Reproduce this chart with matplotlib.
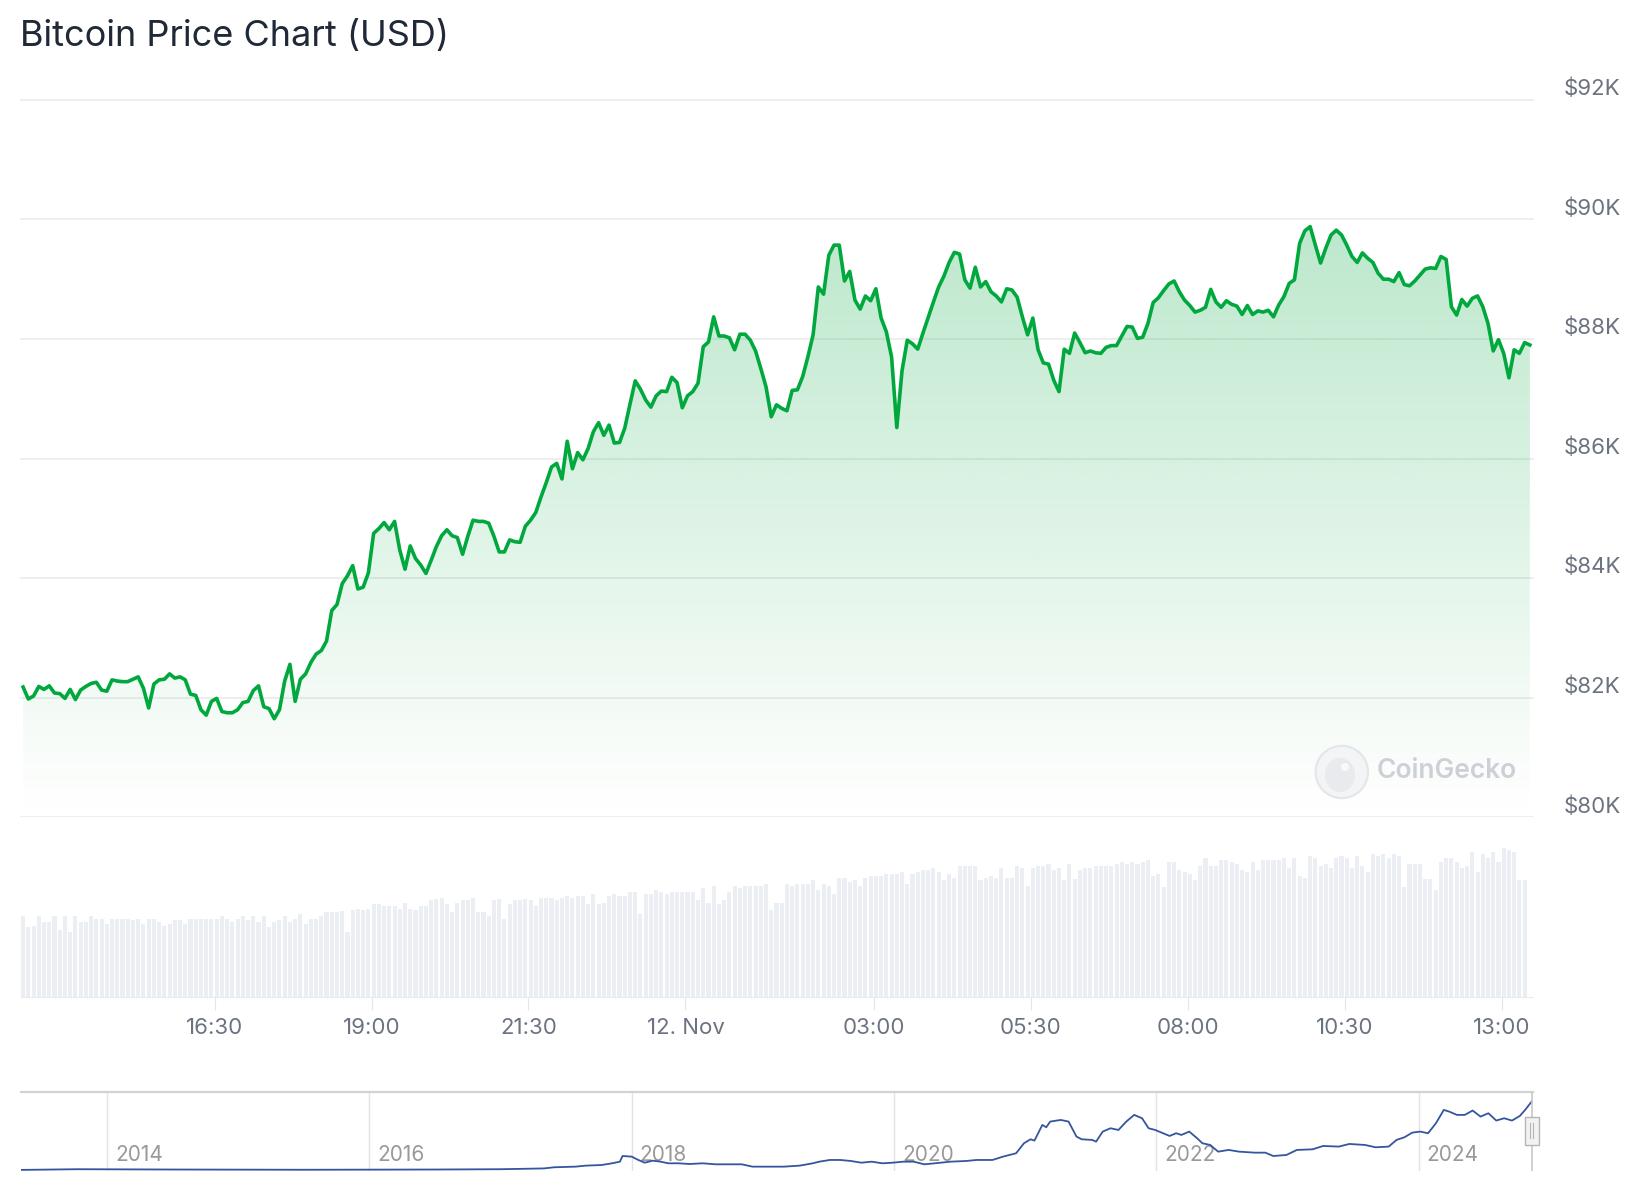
import numpy as np
import pandas as pd
import matplotlib
matplotlib.use("Agg")
import matplotlib.pyplot as plt
import matplotlib.dates as mdates
import matplotlib.colors as mcolors
from matplotlib.patches import Circle, Ellipse, Rectangle
from matplotlib.transforms import ScaledTranslation, blended_transform_factory

plt.rcParams["font.family"] = ["Inter", "DejaVu Sans"]

# 24h of 5-minute samples, price in thousands of USD
start_time = "2024-11-11 13:27"
price_k = [
    82.18, 81.98, 82.03, 82.19, 82.14, 82.20, 82.08, 82.07, 81.99, 82.14,
    81.97, 82.13, 82.19, 82.24, 82.26, 82.13, 82.11, 82.30, 82.28, 82.27,
    82.27, 82.31, 82.35, 82.16, 81.83, 82.23, 82.30, 82.31, 82.40, 82.33,
    82.35, 82.30, 82.06, 82.04, 81.80, 81.71, 81.94, 81.99, 81.77, 81.75,
    81.75, 81.80, 81.92, 81.94, 82.12, 82.20, 81.85, 81.82, 81.65, 81.80,
    82.28, 82.56, 81.94, 82.31, 82.40, 82.59, 82.73, 82.79, 82.95, 83.46,
    83.56, 83.91,
    84.04, 84.21, 83.82, 83.85, 84.09, 84.75, 84.83, 84.93, 84.81, 84.95,
    84.47, 84.15, 84.54, 84.33, 84.22, 84.08, 84.30, 84.53, 84.71, 84.81,
    84.71, 84.68, 84.40, 84.70, 84.97, 84.95, 84.95, 84.92, 84.70, 84.44,
    84.44, 84.64, 84.61, 84.60, 84.87, 84.97, 85.10, 85.36, 85.60, 85.86,
    85.92, 85.66, 86.29, 85.83, 86.10, 85.98, 86.17, 86.45, 86.60, 86.39,
    86.56, 86.26, 86.27, 86.51, 86.91, 87.30, 87.16, 86.98, 86.86, 87.05,
    87.13, 87.12, 87.36, 87.27, 86.85, 87.05, 87.12, 87.26, 87.87, 87.95,
    88.37, 88.05, 88.05, 88.02, 87.82, 88.08, 88.08, 87.98, 87.80, 87.51,
    87.20, 86.70, 86.90, 86.84, 86.80, 87.14, 87.15, 87.37, 87.70, 88.07,
    88.87, 88.75, 89.40, 89.57, 89.57, 88.97, 89.13, 88.65, 88.50, 88.72,
    88.64, 88.84, 88.35, 88.12, 87.70, 86.52, 87.47, 87.98, 87.92, 87.83,
    88.10, 88.36, 88.62, 88.87, 89.05, 89.28, 89.45, 89.42, 88.99, 88.85,
    89.20, 88.87, 88.96, 88.79, 88.72, 88.62, 88.84, 88.82, 88.70, 88.37,
    88.07, 88.35, 87.82, 87.60, 87.58, 87.31, 87.12, 87.83, 87.76, 88.10,
    87.94, 87.77, 87.80, 87.77, 87.76, 87.86, 87.89, 87.89, 88.05, 88.21,
    88.20, 88.01, 88.03, 88.26, 88.61, 88.69, 88.81, 88.92, 88.97, 88.79,
    88.65, 88.56, 88.45, 88.48, 88.53, 88.83, 88.62, 88.53, 88.64, 88.58,
    88.55, 88.41, 88.56, 88.41, 88.47, 88.45, 88.48, 88.37, 88.57, 88.71,
    88.93,
    88.99, 89.60, 89.81, 89.88, 89.57, 89.27, 89.52, 89.74, 89.82, 89.74,
    89.57, 89.38, 89.28, 89.44, 89.35, 89.28, 89.10, 89.00, 89.00, 88.96,
    89.11, 88.91, 88.89, 88.97, 89.07, 89.17, 89.19, 89.18, 89.38, 89.33,
    88.54, 88.40, 88.66, 88.55, 88.68, 88.72, 88.54, 88.26, 87.80, 87.99,
    87.76, 87.35, 87.82, 87.76, 87.94, 87.90,
]

# relative trading volume per 5-minute bar (no scale is shown on the chart)
volume = [
    242, 210, 212, 242, 225, 225, 242, 200, 242, 195,
    242, 225, 225, 242, 235, 235, 218, 235, 235, 235,
    235, 230, 235, 218, 235, 235, 225, 212, 218, 230,
    230, 218, 235, 235, 235, 235, 235, 235, 242, 235,
    225, 235, 242, 230, 242, 225, 242, 210, 225, 230,
    242, 225, 235, 248, 218, 235, 235, 242, 255, 255,
    255, 258, 195, 260, 265, 260, 265, 278, 278, 272,
    272, 272, 265, 283, 265, 260, 272, 272, 290, 295,
    296, 278, 255, 283, 290, 290, 296, 255, 255, 242,
    290, 295, 235, 278, 290, 290, 295, 290,
    272, 296, 296, 296, 290, 296, 302, 296, 302, 302,
    278, 308, 278, 283, 302, 308, 302, 302, 314, 314,
    248, 308, 308, 320, 314, 308, 314, 314, 314, 314,
    314, 290, 326, 283, 332, 278, 290, 314, 332, 326,
    332, 332, 332, 332, 338, 260, 283, 283, 338, 332,
    338, 338, 338, 350, 320, 338, 332, 308, 356, 356,
    344, 350, 332, 356, 362, 362, 362, 368, 368, 368,
    374, 338, 368, 374, 380, 380, 386, 374, 350, 368,
    356, 392, 392, 392, 392, 350, 356, 362, 356, 386,
    356, 356, 392, 386, 332, 386, 392, 392,
    398, 380, 386, 350, 398, 355, 380, 386, 386, 392,
    392, 392, 392, 398, 404, 398, 404, 398, 404, 410,
    362, 370, 330, 404, 404, 380, 374, 368, 350, 392,
    418, 392, 392, 410, 410, 404, 398, 380, 374, 404,
    380, 410, 410, 410, 410, 416, 386, 418, 362, 356,
    422, 418, 392, 398, 386, 418, 422, 418, 386, 422,
    392, 374, 428, 422, 428, 416, 428, 422, 330, 398,
    398, 398, 355, 355, 320, 404, 416, 416, 404, 386,
    392, 434, 374, 428, 416, 434, 404, 446, 440, 434,
    350, 350,
]

tick_times = ["2024-11-11 16:30", "2024-11-11 19:00", "2024-11-11 21:30",
              "2024-11-12 00:00", "2024-11-12 03:00", "2024-11-12 05:30",
              "2024-11-12 08:00", "2024-11-12 10:30", "2024-11-12 13:00"]
tick_labels = ["16:30", "19:00", "21:30", "12. Nov", "03:00", "05:30",
               "08:00", "10:30", "13:00"]
price_ticks = [80, 82, 84, 86, 88, 90, 92]
price_tick_labels = ["$80K", "$82K", "$84K", "$86K", "$88K", "$90K", "$92K"]

# navigator: whole history, decimal year vs price in thousands
nav_years = [
    2013.34, 2013.78, 2014.5, 2015.5, 2016.5, 2017.0, 2017.33, 2017.41,
    2017.57, 2017.65, 2017.77, 2017.85, 2017.91, 2017.93, 2018.00, 2018.05,
    2018.10, 2018.16, 2018.22, 2018.28, 2018.36, 2018.44, 2018.54, 2018.64,
    2018.84, 2018.92, 2019.16, 2019.28, 2019.38,
    2019.43, 2019.51, 2019.59, 2019.67, 2019.75, 2019.83, 2019.91, 2019.99,
    2020.07, 2020.15, 2020.23, 2020.31, 2020.43, 2020.55, 2020.63, 2020.75,
    2020.83, 2020.93, 2020.99, 2021.04, 2021.07, 2021.13, 2021.16, 2021.19,
    2021.27, 2021.33, 2021.39, 2021.43, 2021.51, 2021.54, 2021.59, 2021.65,
    2021.71, 2021.77, 2021.83, 2021.89, 2021.94, 2021.99, 2022.05, 2022.10,
    2022.15, 2022.19, 2022.25, 2022.31, 2022.35, 2022.41, 2022.47, 2022.55,
    2022.63, 2022.75, 2022.83, 2022.89, 2022.99, 2023.07, 2023.19, 2023.27,
    2023.39, 2023.47, 2023.59, 2023.67, 2023.77, 2023.83, 2023.89, 2023.95,
    2024.01, 2024.07, 2024.13, 2024.19, 2024.23, 2024.29, 2024.35, 2024.41,
    2024.47, 2024.53, 2024.59, 2024.65, 2024.71, 2024.77, 2024.81, 2024.86,
]
nav_price_k = [
    0.1, 1.0, 0.6, 0.3, 0.6, 1.0, 2.0, 3.5,
    4.3, 5.6, 6.4, 8.6, 10.7, 18.0, 17.2, 12.9,
    9.4, 12.0, 10.7, 8.6, 8.6, 7.7, 8.6, 7.3,
    7.3, 4.3, 4.3, 5.6, 8.6,
    10.7, 12.9, 12.9, 11.6, 9.4, 10.7, 8.6, 9.4,
    10.7, 10.7, 7.3, 8.6, 10.7, 11.6, 12.9, 12.9,
    17.2, 21.5, 34.4, 39.5, 37.8, 58.0, 55.0, 62.3,
    64.4, 62.3, 43.0, 39.5, 38.7, 36.5, 49.4, 53.7,
    51.5, 62.3, 70.9, 66.6, 53.7, 51.5, 47.3, 43.8,
    47.3, 45.1, 49.4, 40.8, 34.4, 32.2, 23.6, 25.8,
    23.6, 22.3, 22.3, 18.0, 19.3, 25.8, 26.6, 30.9,
    30.1, 33.5, 32.2, 29.2, 30.1, 38.7, 42.1, 48.1,
    49.4, 47.3, 60.1, 77.3, 75.2, 70.9, 70.9, 76.5,
    68.7, 73.0, 63.6, 66.6, 63.6, 69.6, 77.3, 88.1,
]
nav_year_ticks = [2014, 2016, 2018, 2020, 2022, 2024]

GREEN = "#00a83e"
TEXT_GRAY = "#6b7280"
GRID = "#ebebeb"
W, H = 1644, 1200


def box(left, top, right, bottom):
    # pixel box -> figure fraction rectangle
    return [left / W, 1 - bottom / H, (right - left) / W, (bottom - top) / H]


def main():
    times = pd.date_range(start_time, periods=len(price_k), freq="5min")
    x = mdates.date2num(times.to_pydatetime())
    x0 = mdates.date2num(pd.Timestamp("2024-11-11 13:25").to_pydatetime())
    x1 = mdates.date2num(pd.Timestamp("2024-11-12 13:30").to_pydatetime())

    fig = plt.figure(figsize=(W / 100, H / 100), dpi=100)
    fig.patch.set_facecolor("white")

    ax = fig.add_axes(box(21, 99.8, 1533, 817.4))
    ax_vol = fig.add_axes(box(21, 817.4, 1533, 996.7))
    ax_nav = fig.add_axes(box(21, 1091.5, 1533, 1171))

    # price line with a fading green fill underneath
    poly = ax.fill_between(x, price_k, 80, facecolor="none", edgecolor="none")
    grad = np.zeros((256, 1, 4))
    grad[..., :3] = mcolors.to_rgb(GREEN)
    grad[..., 3] = np.linspace(0.32, 0.0, 256)[:, None]
    im = ax.imshow(grad, extent=[x[0], x[-1], 80, 92], aspect="auto",
                   origin="upper", zorder=2, interpolation="bilinear")
    im.set_clip_path(poly.get_paths()[0], transform=ax.transData)
    ax.plot(x, price_k, color=GREEN, lw=2.6, solid_joinstyle="round", zorder=3)

    ax.set_xlim(x0, x1)
    ax.set_ylim(80, 92)
    ax.set_xticks([])
    ax.set_yticks(price_ticks)
    ax.set_yticklabels([])
    ax.tick_params(axis="y", length=0)
    ax.grid(axis="y", color=GRID, lw=1.2)
    for gl in ax.get_ygridlines():
        gl.set_clip_on(False)
    ax.set_axisbelow(True)
    for s in ax.spines.values():
        s.set_visible(False)
    lab_tr = blended_transform_factory(ax.transAxes, ax.transData) + \
        ScaledTranslation(31 / 100, 11 / 100, fig.dpi_scale_trans)
    for v, lab in zip(price_ticks, price_tick_labels):
        ax.text(1.0, v, lab, transform=lab_tr, ha="left", va="center",
                fontsize=16, color=TEXT_GRAY)

    # volume bars
    ax_vol.bar(x[:len(volume)], volume, width=5 / 1440 * 0.78,
               color="#ebeef2", linewidth=0)
    ax_vol.set_xlim(x0, x1)
    ax_vol.set_ylim(0, 539)
    ax_vol.set_yticks([])
    for name, s in ax_vol.spines.items():
        s.set_visible(name == "bottom")
    ax_vol.spines["bottom"].set_color("#e9ecef")
    ax_vol.set_xticks(mdates.date2num(pd.to_datetime(tick_times).to_pydatetime()))
    ax_vol.set_xticklabels(tick_labels)
    ax_vol.tick_params(axis="x", length=9.4, width=0.8, color="#e3e6ea",
                       labelsize=16, labelcolor=TEXT_GRAY, pad=6)

    # navigator with the whole price history
    ax_nav.plot(nav_years, nav_price_k, color="#34559f", lw=1.3, zorder=3)
    ax_nav.set_xlim(2013.345, 2024.87)
    ax_nav.set_ylim(-1.3, 101)
    ax_nav.set_yticks([])
    ax_nav.set_xticks(nav_year_ticks)
    ax_nav.set_xticklabels([])
    ax_nav.tick_params(axis="x", length=0)
    ax_nav.grid(axis="x", color="#e3e3e3", lw=1)
    ax_nav.set_axisbelow(True)
    for name, s in ax_nav.spines.items():
        s.set_visible(name == "top")
    ax_nav.spines["top"].set_color("#cfd3d8")
    ax_nav.spines["top"].set_linewidth(1.6)
    yr_tr = blended_transform_factory(ax_nav.transData, ax_nav.transAxes) + \
        ScaledTranslation(8 / 100, 0, fig.dpi_scale_trans)
    for yr in nav_year_ticks:
        ax_nav.text(yr, 0.2, str(yr), transform=yr_tr, ha="left", va="center",
                    fontsize=15, color="#999999", zorder=2)
    ax_nav.axvline(2024.865, color="#c8c8c8", lw=1.2, zorder=4)
    ax_nav.add_patch(Rectangle((0.9945, 0.33), 0.0095, 0.353,
                               transform=ax_nav.transAxes, facecolor="#f2f2f2",
                               edgecolor="#b5b5b5", lw=1, clip_on=False, zorder=5))
    for dx in (0.9977, 0.9999):
        ax_nav.plot([dx, dx], [0.42, 0.6], transform=ax_nav.transAxes,
                    color="#b5b5b5", lw=0.8, clip_on=False, zorder=6)

    # title and watermark
    fig.text(20 / W, 1 - 36.5 / H, "Bitcoin Price Chart (USD)", fontsize=26,
             color="#1f2937", ha="left", va="center")
    fig.add_artist(Circle((13.418, 4.28), 0.262, transform=fig.dpi_scale_trans,
                          facecolor="#f3f4f6", edgecolor="#e3e5e8", lw=1.5))
    fig.add_artist(Ellipse((13.40, 4.25), 0.3, 0.34, transform=fig.dpi_scale_trans,
                           facecolor="#e8eaed", edgecolor="none"))
    fig.add_artist(Circle((13.45, 4.33), 0.04, transform=fig.dpi_scale_trans,
                          facecolor="#f8f9fa", edgecolor="none"))
    fig.text(1376.7 / W, 1 - 770.6 / H, "CoinGecko", fontsize=19,
             color="#cdd1d7", weight="semibold", ha="left", va="center")

    fig.savefig("out.png", dpi=100)


if __name__ == "__main__":
    main()
